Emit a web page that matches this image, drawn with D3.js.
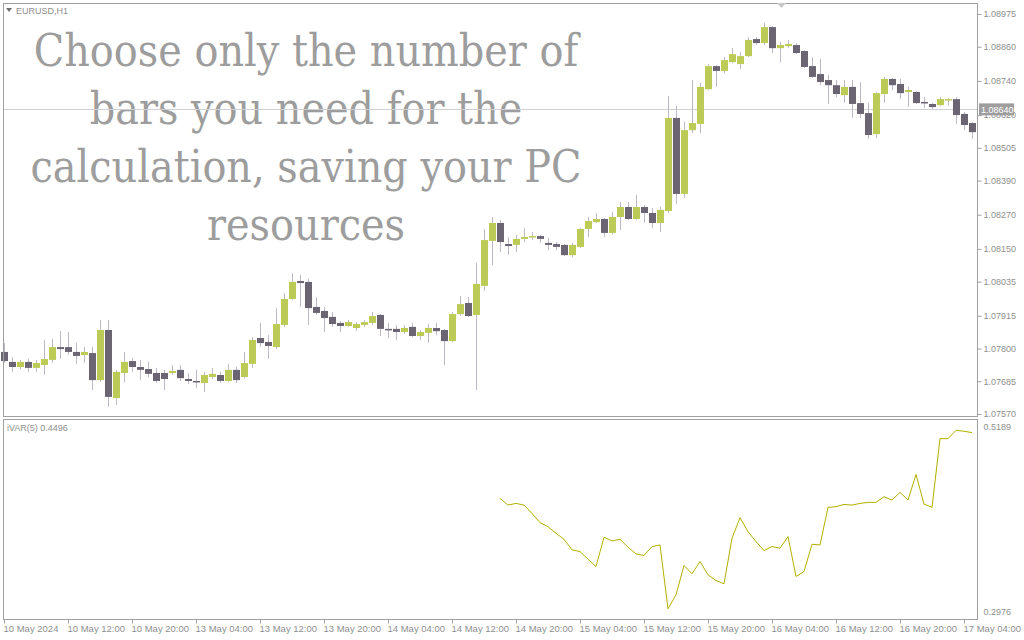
<!DOCTYPE html>
<html><head><meta charset="utf-8">
<script src="https://cdn.jsdelivr.net/npm/d3@7"></script>
<style>body{margin:0;background:#fff;overflow:hidden}svg{display:block}</style>
</head><body><svg id="c" width="1024" height="640"></svg>
<script>
// ---- data (EURUSD H1, bars from 10 May 2024 04:00) ----
const openP=[1.07788,1.07753,1.07735,1.07753,1.07732,1.07742,1.07760,1.07805,1.07805,1.07788,1.07777,1.07784,1.07689,1.07865,1.07626,1.07714,1.07756,1.07735,1.07728,1.07714,1.07714,1.07714,1.07725,1.07693,1.07686,1.07679,1.07700,1.07707,1.07686,1.07725,1.07700,1.07746,1.07837,1.07823,1.07805,1.07883,1.07974,1.08037,1.08034,1.07946,1.07932,1.07911,1.07890,1.07879,1.07872,1.07883,1.07890,1.07918,1.07869,1.07869,1.07858,1.07876,1.07844,1.07855,1.07872,1.07865,1.07826,1.07921,1.07960,1.07918,1.08020,1.08178,1.08241,1.08167,1.08164,1.08185,1.08192,1.08195,1.08171,1.08167,1.08164,1.08128,1.08157,1.08220,1.08244,1.08255,1.08206,1.08262,1.08297,1.08255,1.08297,1.08276,1.08241,1.08283,1.08610,1.08343,1.08567,1.08589,1.08711,1.08792,1.08775,1.08806,1.08799,1.08827,1.08887,1.08873,1.08929,1.08855,1.08862,1.08866,1.08845,1.08792,1.08764,1.08743,1.08725,1.08690,1.08719,1.08662,1.08627,1.08553,1.08694,1.08747,1.08729,1.08701,1.08701,1.08666,1.08659,1.08655,1.08673,1.08676,1.08624,1.08592];
const highP=[1.07819,1.07770,1.07760,1.07763,1.07760,1.07830,1.07833,1.07861,1.07858,1.07819,1.07805,1.07805,1.07900,1.07900,1.07725,1.07788,1.07767,1.07760,1.07753,1.07732,1.07725,1.07742,1.07742,1.07714,1.07725,1.07718,1.07732,1.07718,1.07746,1.07735,1.07788,1.07840,1.07890,1.07847,1.07942,1.07995,1.08065,1.08058,1.08044,1.07981,1.07946,1.07928,1.07897,1.07900,1.07893,1.07900,1.07928,1.07921,1.07890,1.07883,1.07883,1.07890,1.07865,1.07886,1.07890,1.07869,1.07928,1.07984,1.07981,1.08100,1.08220,1.08262,1.08251,1.08192,1.08199,1.08223,1.08209,1.08199,1.08188,1.08174,1.08167,1.08171,1.08223,1.08262,1.08276,1.08258,1.08280,1.08315,1.08315,1.08339,1.08304,1.08294,1.08297,1.08687,1.08652,1.08596,1.08743,1.08733,1.08799,1.08796,1.08824,1.08855,1.08841,1.08894,1.08894,1.08943,1.08933,1.08877,1.08884,1.08873,1.08848,1.08824,1.08817,1.08761,1.08743,1.08743,1.08743,1.08736,1.08662,1.08701,1.08754,1.08750,1.08747,1.08719,1.08704,1.08683,1.08662,1.08683,1.08680,1.08683,1.08631,1.08596];
const lowP=[1.07749,1.07718,1.07728,1.07718,1.07718,1.07707,1.07749,1.07763,1.07777,1.07746,1.07749,1.07654,1.07682,1.07595,1.07602,1.07682,1.07718,1.07689,1.07700,1.07679,1.07654,1.07707,1.07686,1.07675,1.07661,1.07647,1.07693,1.07679,1.07682,1.07679,1.07696,1.07732,1.07805,1.07763,1.07798,1.07876,1.07970,1.07946,1.07883,1.07918,1.07858,1.07876,1.07858,1.07876,1.07861,1.07876,1.07883,1.07844,1.07837,1.07830,1.07851,1.07840,1.07830,1.07819,1.07847,1.07742,1.07823,1.07914,1.07911,1.07654,1.08002,1.08093,1.08139,1.08128,1.08139,1.08174,1.08181,1.08171,1.08146,1.08146,1.08125,1.08121,1.08153,1.08192,1.08241,1.08192,1.08202,1.08216,1.08251,1.08251,1.08241,1.08223,1.08209,1.08276,1.08308,1.08329,1.08557,1.08557,1.08708,1.08719,1.08768,1.08803,1.08782,1.08824,1.08866,1.08866,1.08838,1.08806,1.08855,1.08834,1.08785,1.08750,1.08725,1.08659,1.08683,1.08662,1.08610,1.08610,1.08536,1.08539,1.08662,1.08708,1.08676,1.08648,1.08659,1.08645,1.08641,1.08652,1.08655,1.08589,1.08567,1.08536];
const closeP=[1.07756,1.07735,1.07753,1.07732,1.07749,1.07763,1.07805,1.07798,1.07788,1.07774,1.07788,1.07689,1.07865,1.07630,1.07718,1.07753,1.07735,1.07725,1.07711,1.07686,1.07693,1.07721,1.07696,1.07686,1.07682,1.07707,1.07711,1.07686,1.07725,1.07689,1.07749,1.07830,1.07819,1.07809,1.07886,1.07974,1.08034,1.08030,1.07942,1.07925,1.07907,1.07886,1.07879,1.07893,1.07886,1.07893,1.07914,1.07869,1.07865,1.07858,1.07872,1.07844,1.07858,1.07872,1.07861,1.07826,1.07921,1.07956,1.07914,1.08027,1.08181,1.08241,1.08174,1.08160,1.08185,1.08192,1.08195,1.08185,1.08164,1.08157,1.08128,1.08164,1.08220,1.08248,1.08255,1.08206,1.08262,1.08297,1.08255,1.08297,1.08276,1.08241,1.08287,1.08610,1.08343,1.08567,1.08592,1.08719,1.08792,1.08775,1.08813,1.08834,1.08827,1.08884,1.08873,1.08929,1.08855,1.08866,1.08870,1.08838,1.08789,1.08754,1.08736,1.08725,1.08694,1.08719,1.08659,1.08624,1.08550,1.08697,1.08747,1.08725,1.08697,1.08708,1.08662,1.08662,1.08648,1.08676,1.08676,1.08620,1.08585,1.08560];

const priceTicks=[1.08975,1.08860,1.08740,1.08620,1.08505,1.08390,1.08270,1.08150,1.08035,1.07915,1.07800,1.07685,1.07570];
const timeLabels=["10 May 2024","10 May 12:00","10 May 20:00","13 May 04:00","13 May 12:00","13 May 20:00","14 May 04:00","14 May 12:00","14 May 20:00","15 May 04:00","15 May 12:00","15 May 20:00","16 May 04:00","16 May 12:00","16 May 20:00","17 May 04:00"];
const timeTickBars=[0,8,16,24,32,40,48,56,64,72,80,88,96,104,112,120];

const ivarStartBar=62;
const ivarValues=[0.4335,0.4255,0.4275,0.4255,0.4156,0.4045,0.3997,0.3918,0.3846,0.3719,0.3699,0.3608,0.3520,0.3870,0.3826,0.3846,0.3751,0.3671,0.3651,0.3759,0.3778,0.3015,0.3182,0.3532,0.3433,0.3580,0.3421,0.3353,0.3313,0.3858,0.4104,0.3937,0.3818,0.3711,0.3759,0.3739,0.3878,0.3401,0.3460,0.3786,0.3778,0.4228,0.4236,0.4263,0.4255,0.4275,0.4287,0.4287,0.4355,0.4315,0.4407,0.4315,0.4621,0.4267,0.4228,0.5050,0.5050,0.5150,0.5138,0.5122];
const ivarTicks=[0.5189,0.2976];
const bidPrice=1.08640;
const symbolLabel="EURUSD,H1";
const indicatorLabel="iVAR(5) 0.4496";
const overlayLines=["Choose only the number of","bars you need for the","calculation, saving your PC","resources"];

// ---- styles ----
const BULL="#bccb55", BEAR="#6b6473", WICK="#bdb8c3", FRAME="#a0a0a0", TXT="#8f8f8f";
const FONT="'Liberation Sans', Arial, sans-serif";

const svg=d3.select("#c");
const n=openP.length;
const x=d3.scaleLinear().domain([0,n-1]).range([4,972]);
const y=d3.scaleLinear().domain([1.07570,1.08975]).range([414,14]);
const yi=d3.scaleLinear().domain([0.2976,0.5189]).range([612,427]);

// overlay text
const ov=svg.append("g").attr("transform","translate(306,0) scale(0.905,1)")
  .attr("fill","#9d9d9d").attr("font-family","'DejaVu Serif', 'Liberation Serif', serif").attr("font-size",44).attr("text-anchor","middle");
ov.selectAll("text").data(overlayLines).join("text")
  .attr("x",0).attr("y",(d,i)=>66+i*58).text(d=>d);

// bid line
svg.append("line").attr("x1",3).attr("x2",977).attr("y1",Math.round(y(bidPrice))+0.5).attr("y2",Math.round(y(bidPrice))+0.5)
  .attr("stroke","#cfcfd6").attr("stroke-width",1);

// candles
const bars=d3.range(n).map(i=>({i,o:openP[i],h:highP[i],l:lowP[i],c:closeP[i]}));
const cg=svg.append("g");
cg.selectAll("line").data(bars).join("line")
  .attr("x1",d=>Math.round(x(d.i))+0.5).attr("x2",d=>Math.round(x(d.i))+0.5)
  .attr("y1",d=>y(d.h)).attr("y2",d=>y(d.l)).attr("stroke",WICK).attr("stroke-width",1);
cg.selectAll("rect").data(bars).join("rect")
  .attr("x",d=>Math.round(x(d.i))-3).attr("width",7)
  .attr("y",d=>y(Math.max(d.o,d.c)))
  .attr("height",d=>Math.max(1.5,Math.abs(y(d.o)-y(d.c))))
  .attr("fill",d=>d.c>=d.o?BULL:BEAR);

// indicator line
const line=d3.line().x((d,k)=>x(ivarStartBar+k)).y(d=>yi(d));
svg.append("path").datum(ivarValues).attr("d",line).attr("fill","none").attr("stroke","#b3b000").attr("stroke-width",1);

// frames
const fr=svg.append("g").attr("stroke",FRAME).attr("fill","none").attr("shape-rendering","crispEdges");
fr.append("rect").attr("x",3.5).attr("y",3.5).attr("width",974).attr("height",413);
fr.append("rect").attr("x",3.5).attr("y",419.5).attr("width",974).attr("height",200);

// right price axis
const ay=d3.axisRight(y).tickValues(priceTicks).tickFormat(d3.format(".5f")).tickSize(4).tickPadding(2);
const gy=svg.append("g").attr("transform","translate(977.5,0)").call(ay);
gy.select(".domain").remove();
gy.selectAll("line").attr("stroke",FRAME);
gy.selectAll("text").attr("fill",TXT).attr("font-family",FONT).attr("font-size",9);

// bid label box
const by=y(bidPrice);
svg.append("rect").attr("x",979).attr("y",by-6).attr("width",35).attr("height",12).attr("fill","#9e9e9e");
svg.append("text").attr("x",981).attr("y",by+3.5).attr("fill","#ffffff").attr("font-family",FONT).attr("font-size",9).text(d3.format(".5f")(bidPrice));

// indicator axis
const ai=d3.axisRight(yi).tickValues(ivarTicks).tickFormat(d3.format(".4f")).tickSize(0).tickPadding(6);
const gi=svg.append("g").attr("transform","translate(977.5,0)").call(ai);
gi.select(".domain").remove();
gi.selectAll("text").attr("fill",TXT).attr("font-family",FONT).attr("font-size",9);

// time axis
const ax=d3.axisBottom(x).tickValues(timeTickBars).tickFormat((d,k)=>timeLabels[k]).tickSize(4).tickPadding(2);
const gx=svg.append("g").attr("transform","translate(0,619.5)").call(ax);
gx.select(".domain").remove();
gx.selectAll("line").attr("stroke",FRAME);
gx.selectAll("text").attr("fill",TXT).attr("font-family",FONT).attr("font-size",9.5).attr("text-anchor","start").attr("dx",-1);

// labels
svg.append("path").attr("d","M6,8 L12,8 L9,12 Z").attr("fill","#707070");
svg.append("text").attr("x",16).attr("y",14).attr("fill",TXT).attr("font-family",FONT).attr("font-size",9).text(symbolLabel);
svg.append("text").attr("x",7).attr("y",431).attr("fill",TXT).attr("font-family",FONT).attr("font-size",9).text(indicatorLabel);
// chart shift marker
svg.append("path").attr("d","M777,3 L786,3 L781.5,8 Z").attr("fill","#c8c8c8");
</script></body></html>
